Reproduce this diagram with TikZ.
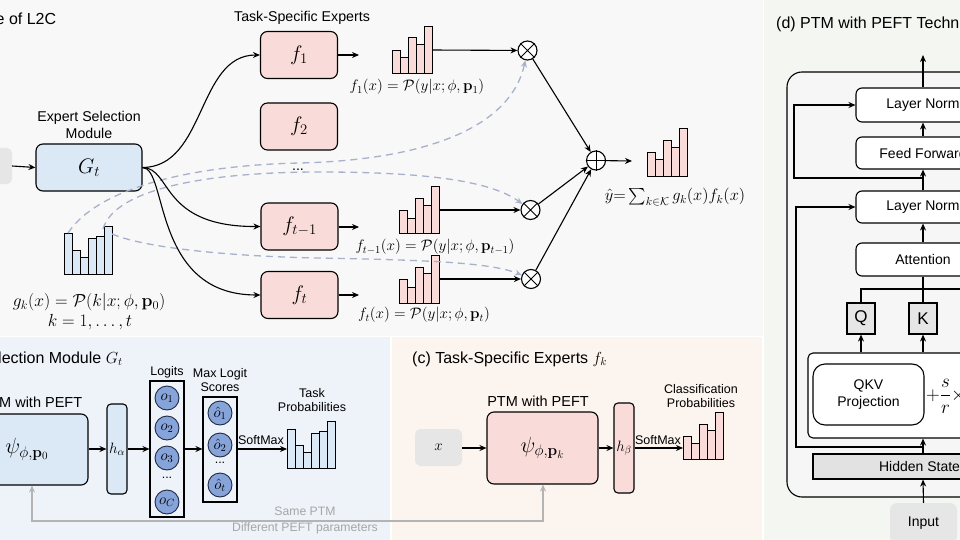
\RequirePackage{fix-cm}
\documentclass[tikz,border=0pt]{standalone}
\usepackage{amsmath,amssymb}
\usepackage[no-math]{fontspec}
\setmainfont{Liberation Sans}
\usetikzlibrary{arrows.meta,calc}

\definecolor{pinkfill}{HTML}{F9DCDA}
\definecolor{bluefill}{HTML}{DBE8F5}
\definecolor{circfill}{HTML}{86A3DA}
\definecolor{circdraw}{HTML}{1F2A44}
\definecolor{dashcol}{HTML}{A7B1CA}
\definecolor{greybox}{HTML}{E6E6E6}
\definecolor{hsfill}{HTML}{E2E2E2}
\definecolor{linkgrey}{HTML}{B4B4B4}
\definecolor{linktext}{HTML}{A6A6A6}
\definecolor{bgtop}{HTML}{F8F8F8}
\definecolor{bgb}{HTML}{EEF3F9}
\definecolor{bgc}{HTML}{FCF4EE}
\definecolor{bgd}{HTML}{F3F6F1}
\definecolor{bgdin}{HTML}{F6F6F6}

% histogram: fill colour, left x, baseline y, list of bar tops
\newcommand{\drawbars}[4]{%
  \foreach \ytop [count=\bi from 0] in {#4}{%
    \draw[line width=0.9pt, fill=#1] ({#2+8*\bi},#3) rectangle ({#2+8*\bi+8},\ytop);
  }}

\tikzset{
  arr/.style={-{Stealth[length=7pt,width=6pt]}, line width=1.1pt},
  dsh/.style={dashed, dash pattern=on 7pt off 5pt, line width=1.3pt, draw=dashcol,
              -{Stealth[length=7pt,width=6pt,fill=dashcol]}},
  glink/.style={line width=1.1pt, draw=linkgrey,
                {Stealth[length=7pt,width=6pt,fill=linkgrey]}-{Stealth[length=7pt,width=6pt,fill=linkgrey]}},
  ebox/.style={draw, line width=1.1pt, rounded corners=7pt, fill=pinkfill,
               minimum width=77pt, minimum height=47pt, inner sep=0pt,
               font=\fontsize{21}{25}\selectfont},
  gbox/.style={draw, line width=1.1pt, rounded corners=7pt, fill=bluefill,
               minimum width=106pt, minimum height=47pt, inner sep=0pt,
               font=\fontsize{21}{25}\selectfont},
  mop/.style={circle, draw, line width=1.1pt, fill=white, minimum size=19pt, inner sep=0pt},
  txt/.style={inner sep=0pt, align=center, font=\fontsize{14.2}{17}\selectfont},
  small/.style={inner sep=0pt, align=center, font=\fontsize{12.5}{14.5}\selectfont},
  ttl/.style={inner sep=0pt, anchor=base west, font=\fontsize{16}{19}\selectfont},
  mlbl/.style={inner sep=0pt, font=\fontsize{15.2}{18}\selectfont},
  glbl/.style={inner sep=0pt, font=\fontsize{17.5}{20}\selectfont},
  circ/.style={circle, draw=circdraw, line width=0.9pt, fill=circfill,
               minimum size=24pt, inner sep=0pt, font=\fontsize{15}{17}\selectfont},
  colbox/.style={draw, line width=1.1pt, inner sep=0pt, minimum width=34pt},
  headbox/.style={draw, line width=1.1pt, rounded corners=4pt, inner sep=0pt,
                  minimum width=20pt, minimum height=90pt, font=\fontsize{15}{17}\selectfont},
  tbox/.style={draw, line width=1.1pt, rounded corners=6pt, fill=white, inner sep=0pt,
               align=center, font=\fontsize{14}{17}\selectfont},
  qk/.style={draw, line width=1.1pt, fill=greybox, inner sep=0pt,
             minimum width=28pt, minimum height=31pt, font=\fontsize{17}{20}\selectfont},
}

\begin{document}
\begin{tikzpicture}[x=1pt,y=-1pt]
\useasboundingbox (0,0) rectangle (960,540);
\clip (0,0) rectangle (960,540);

% panel backgrounds
\fill[white] (0,0) rectangle (960,540);
\fill[bgtop] (0,0) rectangle (763,336);
\fill[bgb] (0,337) rectangle (390,540);
\fill[bgc] (392,337) rectangle (762,540);
\fill[bgd] (764,0) rectangle (960,540);

%% ---------------- overview ----------------
\node[ttl] (ta) at (-4.5,25) {e of L2C};
\node[txt] (tse) at (302,18) {Task-Specific Experts};

\node[fill=greybox, rounded corners=5pt, minimum width=30pt, minimum height=36pt] (inp) at (-3,166) {};
\node[gbox] (G) at (89,167.5) {$G_t$};
\node[txt] (esm) at (89,124.5) {Expert Selection\\Module};

\node[ebox] (f1) at (299,55) {$f_1$};
\node[ebox] (f2) at (299,126.5) {$f_2$};
\node[txt] (fdots) at (298,170) {...};
\node[ebox] (ft1) at (299.5,226.5) {$f_{t-1}$};
\node[ebox] (ft) at (299.5,295) {$f_t$};

% gating histogram and the expert histograms
\drawbars{bluefill}{64}{274}{233,250,257,238,236,226}
\drawbars{pinkfill}{392}{73}{50,57,37,44,26}
\drawbars{pinkfill}{399}{233}{210,218,198,205,186}
\drawbars{pinkfill}{399}{303}{279,287,267,273,255}
\drawbars{pinkfill}{647}{176}{152,159,140,147,128}

\coordinate (gA) at (68,233);
\coordinate (gB) at (103,229);
\coordinate (gC) at (112,234);
\coordinate (f1o) at (359,55);
\coordinate (ft1o) at (359,227);
\coordinate (fto) at (359,295);
\coordinate (h1o) at (432,50);
\coordinate (h2o) at (439,210);
\coordinate (h3o) at (439,279);
\coordinate (yo) at (632,161);

\node[mop] (m1) at (527.5,50.5) {};
\node[mop] (m2) at (530.5,210) {};
\node[mop] (m3) at (531,279) {};
\node[mop] (pl) at (596,160.5) {};
\foreach \m in {m1,m2,m3}{\draw[line width=1pt] (\m.45) -- (\m.225) (\m.135) -- (\m.-45);}
\draw[line width=1pt] (pl.north) -- (pl.south) (pl.east) -- (pl.west);

% gating weights routed to the multipliers
\draw[dsh] (gA) .. controls (100,185) and (200,165) .. (300,163)
               .. controls (420,160) and (510,130) .. (m1);
\draw[dsh] (gB) .. controls (115,188) and (210,172) .. (320,172)
               .. controls (420,172) and (490,180) .. (m2);
\draw[dsh] (gC) .. controls (150,250) and (250,257) .. (320,258)
               .. controls (420,260) and (490,262) .. (m3);

% routing from the selection module
\draw[arr] (inp.east) -- (G.west);
\draw[arr] (G.east) .. controls (206,167) and (197,55) .. (f1.west);
\draw[arr] (G.east) .. controls (172,168) and (160,227) .. (ft1.west);
\draw[arr] (G.east) .. controls (168,168) and (152,295) .. (ft.west);

\draw[arr] (f1.east |- f1o) -- (f1o);
\draw[arr] (ft1.east |- ft1o) -- (ft1o);
\draw[arr] (ft.east |- fto) -- (fto);
\draw[arr] (h1o) -- (m1);
\draw[arr] (h2o) -- (m2);
\draw[arr] (h3o) -- (m3);
\draw[arr] (m1) -- (pl);
\draw[arr] (m2) -- (pl);
\draw[arr] (m3) -- (pl);
\draw[arr] (pl) -- (yo);

\node[mlbl] (l1) at (417,87) {$f_1(x) = \mathcal{P}(y|x;\phi,\mathbf{p}_1)$};
\node[mlbl] (l2) at (435,247) {$f_{t-1}(x) = \mathcal{P}(y|x;\phi,\mathbf{p}_{t-1})$};
\node[mlbl] (l3) at (424,315) {$f_t(x) = \mathcal{P}(y|x;\phi,\mathbf{p}_t)$};
\node[inner sep=0pt, font=\fontsize{16.5}{19}\selectfont] (ly) at (675,197) {$\hat{y}{=}\sum_{k\in\mathcal{K}} g_k(x)f_k(x)$};
\node[glbl] (lg) at (89,302) {$g_k(x) = \mathcal{P}(k|x;\phi,\mathbf{p}_0)$};
\node[glbl] (lk) at (90,322) {$k=1,\dots,t$};

%% ---------------- expert selection module ----------------
\node[ttl] (tb) at (-2,363.5) {lection Module $G_t$};
\node[inner sep=0pt, anchor=base west, font=\fontsize{14.5}{17}\selectfont] (pb) at (-1,407) {M with PEFT};
\node[draw, line width=1.1pt, rounded corners=7pt, fill=bluefill, minimum width=122pt,
      minimum height=71pt, inner sep=0pt, font=\fontsize{22}{26}\selectfont] (psi0) at (27,449.5) {$\psi_{\phi,\mathbf{p}_0}$};
\node[headbox, fill=bluefill] (ha) at (117,449) {$h_\alpha$};
\node[colbox, minimum height=136pt] (lgt) at (167,449) {};
\node[colbox, minimum height=105pt] (mx) at (220,449.5) {};
\node[small] (lgl) at (167,372) {Logits};
\node[small] (mxl) at (220,380) {Max Logit\\Scores};

\node[circ] (o1) at (167,398) {$o_1$};
\node[circ] (o2) at (167,428) {$o_2$};
\node[circ] (o3) at (167,458) {$o_3$};
\node[small] (odots) at (167,478) {...};
\node[circ] (oc) at (167,502) {$o_C$};
\node[circ] (p1) at (220,413) {$\hat{o}_1$};
\node[circ] (p2) at (220,445) {$\hat{o}_2$};
\node[small] (pdots) at (220,463) {...};
\node[circ] (pt) at (220,485) {$\hat{o}_t$};

\coordinate (tpin) at (287,449);
\draw[arr] (psi0.east |- ha.west) -- (ha.west);
\draw[arr] (ha.east) -- (lgt.west |- ha.east);
\draw[arr] (lgt.east |- ha.east) -- (mx.west |- ha.east);
\draw[arr] (mx.east |- tpin) -- (tpin);
\node[small] (smb) at (261,440) {SoftMax};
\drawbars{bluefill}{287}{468}{429,445,452,433,431,421}
\node[small] (tpl) at (312,400) {Task\\Probabilities};

%% ---------------- task-specific experts ----------------
\node[ttl] (tc) at (412,363.5) {(c) Task-Specific Experts $f_k$};
\node[fill=greybox, rounded corners=6pt, minimum width=47pt, minimum height=37pt,
      inner sep=0pt, font=\fontsize{15}{17}\selectfont] (xin) at (438.5,447.5) {$x$};
\node[draw, line width=1.1pt, rounded corners=7pt, fill=pinkfill, minimum width=111pt,
      minimum height=72pt, inner sep=0pt, font=\fontsize{22}{26}\selectfont] (psik) at (542.5,448) {$\psi_{\phi,\mathbf{p}_k}$};
\node[txt, font=\fontsize{14.5}{17}\selectfont] (pc) at (538,401) {PTM with PEFT};
\node[headbox, fill=pinkfill] (hb) at (624,448) {$h_\beta$};
\coordinate (cpin) at (683,448);
\draw[arr] (xin.east |- psik.west) -- (psik.west);
\draw[arr] (psik.east) -- (hb.west);
\draw[arr] (hb.east) -- (cpin);
\node[small] (smc) at (658,440) {SoftMax};
\drawbars{pinkfill}{683}{459}{436,443,424,430,412}
\node[small] (cpl) at (701,396) {Classification\\Probabilities};

% shared backbone link
\coordinate (lk1) at (32,521);
\coordinate (lk2) at (543,521);
\draw[glink] (lk1 |- psi0.south) -- (lk1) -- (lk2) -- (lk2 |- psik.south);
\node[inner sep=0pt, align=center, text=linktext, font=\fontsize{12.2}{16}\selectfont] (lkt) at (305,521) {Same PTM\\Different PEFT parameters};

%% ---------------- transformer block with PEFT ----------------
\node[ttl] (td) at (776,29) {(d) PTM with PEFT Techniques};
\node[draw, line width=1.1pt, rounded corners=15pt, fill=bgdin, minimum width=313pt,
      minimum height=425pt, inner sep=0pt] (enc) at (943.5,284.5) {};

\node[tbox, minimum width=134pt, minimum height=34pt] (ln1) at (923,105) {Layer Norm};
\node[tbox, minimum width=134pt, minimum height=32pt] (ff) at (923,153) {Feed Forward};
\node[tbox, minimum width=134pt, minimum height=32pt] (ln2) at (923,207) {Layer Norm};
\node[tbox, minimum width=134pt, minimum height=33pt] (att) at (923,259.5) {Attention};
\node[qk] (q) at (861,318.5) {Q};
\node[qk] (k) at (923,318.5) {K};
\node[draw, line width=1.1pt, rounded corners=5pt, fill=white, minimum width=232pt,
      minimum height=85pt, inner sep=0pt] (lora) at (924,395.5) {};
\node[tbox, rounded corners=12pt, minimum width=111pt, minimum height=61pt] (qkv) at (868.5,394.5) {QKV\\Projection};
\node[inner sep=0pt, anchor=west, font=\fontsize{19}{22}\selectfont] (scl) at (926,396) {$+\dfrac{s}{r}\times$};
\node[draw, line width=1.1pt, fill=hsfill, minimum width=220pt, minimum height=25pt,
      inner sep=0pt, font=\fontsize{14}{17}\selectfont] (hs) at (923,466.5) {Hidden States};
\node[fill=greybox, rounded corners=7pt, minimum width=67pt, minimum height=40pt,
      inner sep=0pt, font=\fontsize{14}{17}\selectfont] (inpd) at (923.5,523) {Input};

\coordinate (dout) at (923,55);
\coordinate (r1a) at (923,178);
\coordinate (r1b) at (794,178);
\coordinate (r2a) at (923,447);
\coordinate (r2b) at (796,447);
\coordinate (qj) at (861,289);
\coordinate (qr) at (975,289);

\draw[arr] (ln1.north) -- (dout);
\draw[arr] (ff) -- (ln1);
\draw[arr] (ln2) -- (ff);
\draw[arr] (att) -- (ln2);
\draw[arr] (r1a) -- (r1b) |- (ln1.west);
\draw[arr] (r2a) -- (r2b) |- (ln2.west);
\draw[line width=1.1pt] (q.north) -- (qj) -- (qr);
\draw[line width=1.1pt] (k.north) -- (att.south);
\draw[arr] (q |- lora.north) -- (q.south);
\draw[arr] (k |- lora.north) -- (k.south);
\draw[arr] (hs.north) -- (hs.north |- lora.south);
\draw[arr] (inpd.north) -- (hs.south);
\end{tikzpicture}
\end{document}
